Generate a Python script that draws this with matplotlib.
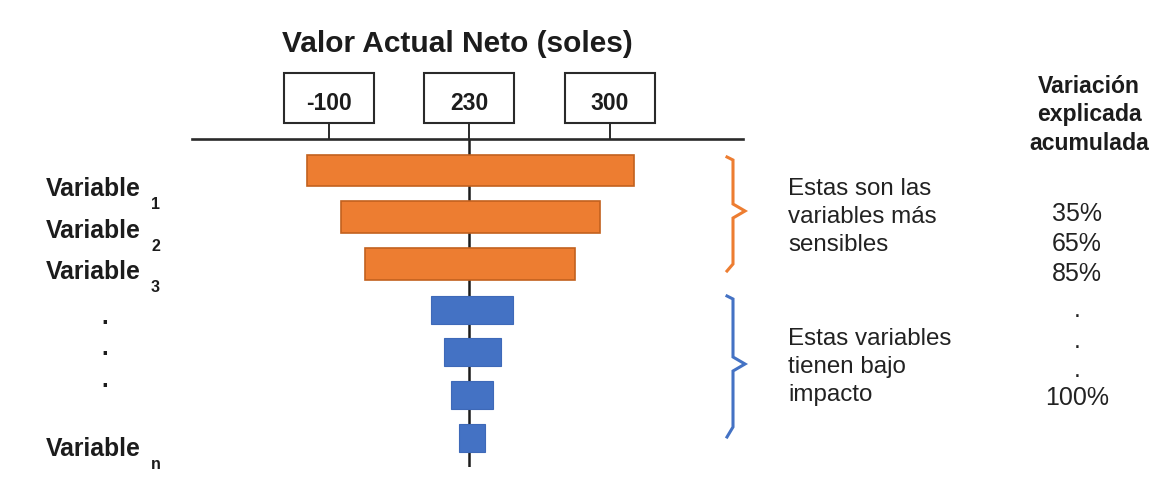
import numpy as np
import matplotlib.pyplot as plt
from matplotlib.patches import Rectangle

plt.rcParams["font.family"] = ["Liberation Sans", "DejaVu Sans"]

# Tornado diagram: VAN range (soles) for each variable, most sensitive first
BASE_VAN = 230
AXIS_TICKS = [-100, 230, 300]
BAR_LOW = [-150, -70, -15, 140, 172, 188, 207]
BAR_HIGH = [312, 295, 283, 252, 246, 242, 238]
BAR_GROUP = ["alta", "alta", "alta", "baja", "baja", "baja", "baja"]

VAR_SUBS = ["1", "2", "3", "n"]
CUM_LABELS = ["35%", "65%", "85%", ".", ".", ".", "100%"]
CUM_HEADER = ["Variación", "explicada", "acumulada"]

GROUP_TEXT = {
    "alta": ["Estas son las", "variables más", "sensibles"],
    "baja": ["Estas variables", "tienen bajo", "impacto"],
}

ORANGE, ORANGE_EDGE = "#ED7D31", "#C2611E"
BLUE, BLUE_EDGE = "#4472C4", "#3E69B8"
INK = "#1C1C1C"

W, H = 1165, 481


def fig_rect(x0, y0, x1, y1):
    """Pixel box (top-left origin) -> figure fraction rect."""
    return [x0 / W, 1 - y1 / H, (x1 - x0) / W, (y1 - y0) / H]


# the VAN axis is a schematic: left and right of the base case get equal room
def fwd(v):
    v = np.asarray(v, dtype=float)
    return np.where(v < BASE_VAN, (v - BASE_VAN) / 330.0, (v - BASE_VAN) / 70.0)


def inv(u):
    u = np.asarray(u, dtype=float)
    return np.where(u < 0, BASE_VAN + 330.0 * u, BASE_VAN + 70.0 * u)


fig = plt.figure(figsize=(W / 100, H / 100), dpi=100)
fig.patch.set_facecolor("white")

ax = fig.add_axes(fig_rect(192, 140, 743, 468))
ax.set_xscale("function", functions=(fwd, inv))
ax.set_xlim(-421, 366.5)
ax.set_ylim(6.32, -0.66)

row_y = [0, 1, 2, 2.98, 3.87, 4.79, 5.70]
for y, lo, hi, grp in zip(row_y, BAR_LOW, BAR_HIGH, BAR_GROUP):
    if grp == "alta":
        ax.barh(y, hi - lo, left=lo, height=0.66, color=ORANGE,
                edgecolor=ORANGE_EDGE, lw=1.2, zorder=3)
    else:
        ax.barh(y, hi - lo, left=lo, height=0.61, color=BLUE,
                edgecolor=BLUE_EDGE, lw=0.8, zorder=3)

ax.axvline(BASE_VAN, color=INK, lw=1.8, zorder=1)

for side in ("left", "right", "bottom"):
    ax.spines[side].set_visible(False)
ax.spines["top"].set_linewidth(1.9)
ax.spines["top"].set_color("#2A2A2A")
ax.set_yticks([])
ax.xaxis.tick_top()
ax.set_xticks(AXIS_TICKS)
ax.tick_params(axis="x", length=11.5, width=1.4, color="#2A2A2A",
               direction="out", labeltop=False)
ax.patch.set_alpha(0)

# overlay in pixel coordinates for the boxed labels and annotations
ov = fig.add_axes([0, 0, 1, 1], zorder=5)
ov.set_xlim(0, W)
ov.set_ylim(H, 0)
ov.axis("off")

for t in AXIS_TICKS:
    cx = ax.transData.transform((t, 0))[0]
    ov.add_patch(Rectangle((cx - 45, 74), 90, 50, fill=False,
                           ec="#2A2A2A", lw=1.5))
    ov.text(cx, 110, str(t), ha="center", va="baseline", fontsize=16.5,
            fontweight="bold", color=INK)

ov.text(457, 52, "Valor Actual Neto (soles)", ha="center", va="baseline",
        fontsize=21.5, fontweight="bold", color=INK)

# variable names with subscripts
label_base = [196, 238, 279, 456]
for sub, yb in zip(VAR_SUBS, label_base):
    ov.text(46, yb, "Variable", ha="left", va="baseline", fontsize=17.8,
            fontweight="bold", color=INK)
    ov.text(151, yb + 13, sub, ha="left", va="baseline", fontsize=11.5,
            fontweight="bold", color=INK)
for yd in (324, 355, 387):
    ov.text(105, yd, ".", ha="center", va="baseline", fontsize=17,
            fontweight="bold", color=INK)

# group braces
brace_hi = [(727, 158), (733, 161), (733, 205), (745, 212), (733, 219),
            (733, 265), (727, 272)]
brace_lo = [(727, 297), (733, 300), (733, 358), (745, 365), (733, 372),
            (733, 428), (727, 438)]
for pts, col in ((brace_hi, ORANGE), (brace_lo, BLUE)):
    xs, ys = zip(*pts)
    ov.plot(xs, ys, color=col, lw=2.2, solid_joinstyle="miter")

for key, y0 in (("alta", 195), ("baja", 345)):
    for i, line in enumerate(GROUP_TEXT[key]):
        ov.text(788, y0 + 28 * i, line, ha="left", va="baseline",
                fontsize=17.4, color="#222222")

# cumulative explained variation column
for i, line in enumerate(CUM_HEADER):
    ov.text(1089, 93 + 28.5 * i, line, ha="center", va="baseline",
            fontsize=16.6, fontweight="bold", color=INK)
cum_y = [221, 251, 281, 317, 348, 377, 405]
for lab, yb in zip(CUM_LABELS, cum_y):
    ov.text(1077, yb, lab, ha="center", va="baseline", fontsize=18,
            color="#222222")

fig.savefig("out.png", dpi=100)
